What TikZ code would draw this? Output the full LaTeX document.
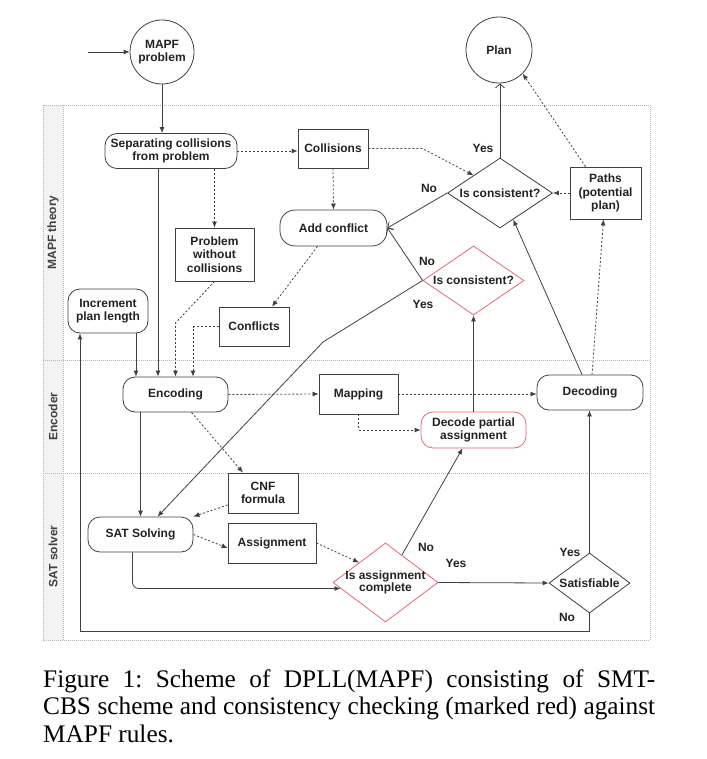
\documentclass[tikz,border=0pt]{standalone}
\usepackage{fontspec}
\usetikzlibrary{shapes.geometric,arrows.meta,calc}
\newfontfamily\dfont{Liberation Sans}
\newfontfamily\capfont{Liberation Serif}
\definecolor{lc}{HTML}{404040}
\definecolor{tc}{HTML}{222222}
\definecolor{rc}{HTML}{E5677C}
\definecolor{lanefill}{HTML}{F3F3F3}
\definecolor{lanec}{HTML}{B8B8B8}
\tikzset{
  base/.style={draw=lc, line width=0.8pt, font=\dfont\bfseries\fontsize{12}{13.7}\selectfont, text=tc, align=center, inner sep=0pt},
  box/.style={base, rectangle},
  rbox/.style={base, rectangle, rounded corners=12pt},
  circ/.style={base, circle},
  dia/.style={base, diamond},
  lbl/.style={font=\dfont\bfseries\fontsize{12}{13.7}\selectfont, text=tc, inner sep=0pt, align=center},
  arr/.style={draw=lc, line width=0.8pt, -{Latex[length=6pt,width=5pt]}},
  darr/.style={arr, dash pattern=on 2pt off 2pt},
  oarr/.style={draw=lc, line width=0.8pt, -{Straight Barb[length=4pt,width=9pt]}},
  lane/.style={draw=lanec, line width=0.6pt, dash pattern=on 1pt off 1pt},
  lanelbl/.style={font=\dfont\bfseries\fontsize{12}{13.7}\selectfont, text=lc, inner sep=0pt},
}
\begin{document}
\begin{tikzpicture}[x=1pt,y=-1pt]
\useasboundingbox (0,0) rectangle (706,759);

% lanes
\fill[lanefill] (43,105) rectangle (63,640);
\draw[lane] (43,105) rectangle (650,640);
\draw[lane] (63,105) -- (63,640);
\draw[lane] (43,360) -- (650,360);
\draw[lane] (43,473) -- (650,473);
\node[lanelbl, rotate=90] (lane1) at (53,232.5) {MAPF theory};
\node[lanelbl, rotate=90] (lane2) at (53,416.5) {Encoder};
\node[lanelbl, rotate=90] (lane3) at (53,556.5) {SAT solver};

% nodes
\node[circ, minimum size=64pt] (mapf) at (162,52) {MAPF\\problem};
\node[circ, minimum size=66pt] (plan) at (499,50) {Plan};
\node[rbox, minimum width=132pt, minimum height=35pt] (sep) at (171,151) {Separating collisions\\from problem};
\node[box, minimum width=70pt, minimum height=39pt] (coll) at (333,148.5) {Collisions};
\node[rbox, rounded corners=15pt, minimum width=107pt, minimum height=36pt] (addc) at (333.5,228) {Add conflict};
\node[box, minimum width=79pt, minimum height=53pt] (pwc) at (214.5,254.5) {Problem\\without\\collisions};
\node[rbox, minimum width=80pt, minimum height=44pt] (inc) at (108,311) {Increment\\plan length};
\node[box, minimum width=70pt, minimum height=39pt] (conf) at (254,326.5) {Conflicts};
\node[dia, minimum width=105pt, minimum height=70pt, label={[lbl]center:Is consistent?}] (ic) at (500,193) {};
\node[box, minimum width=71pt, minimum height=52pt] (paths) at (605.5,193) {Paths\\(potential\\plan)};
\node[dia, draw=rc, minimum width=101pt, minimum height=69pt, label={[lbl]center:Is consistent?}] (ric) at (473.5,280.5) {};
\node[rbox, minimum width=105pt, minimum height=35pt] (enc) at (175.5,394.5) {Encoding};
\node[box, minimum width=79pt, minimum height=40pt] (map) at (358.5,394) {Mapping};
\node[rbox, draw=rc, minimum width=105pt, minimum height=36pt] (dpa) at (473.5,430) {Decode partial\\assignment};
\node[rbox, minimum width=106pt, minimum height=35pt] (dec) at (590,392.5) {Decoding};
\node[box, minimum width=70pt, minimum height=40pt] (cnf) at (263,493) {CNF\\formula};
\node[rbox, minimum width=105pt, minimum height=35pt] (sat) at (140.5,534.5) {SAT Solving};
\node[box, minimum width=88pt, minimum height=40pt] (asg) at (272,543) {Assignment};
\node[dia, draw=rc, minimum width=105pt, minimum height=79pt, label={[lbl,font=\dfont\bfseries\fontsize{12}{10.5}\selectfont]center:{Is assignment\\complete}}] (iac) at (385.5,582.5) {};
\node[dia, minimum width=81pt, minimum height=60pt, label={[lbl]center:Satisfiable}] (satf) at (589.5,583) {};

% edge labels
\node[lbl] (l1) at (483,148) {Yes};
\node[lbl] (l2) at (429,188) {No};
\node[lbl] (l3) at (427,261) {No};
\node[lbl] (l4) at (423,304) {Yes};
\node[lbl] (l5) at (426,547) {No};
\node[lbl] (l6) at (456,563) {Yes};
\node[lbl] (l7) at (570,552) {Yes};
\node[lbl] (l8) at (567,617) {No};

% connectors
\coordinate (start) at (88,52);
\draw[arr] (start) -- (mapf.west);
\draw[arr] (mapf.south) -- (mapf.south |- sep.north);
\draw[darr] (sep.east) -- (sep.east -| coll.west);
\draw[darr] (pwc.north |- sep.south) -- (pwc.north);
\draw[darr] (coll.south) -- (addc.north);
\draw[darr] (coll.east) -- ++(54,0) -- (ic.north west);
\draw[oarr] (ic.north) -- (ic.north |- plan.south);
\draw[oarr] (ic.west) -- (addc.east);
\draw[darr] (paths.west) -- (ic.east);
\draw[darr] ([xshift=-20pt]paths.north) -- (plan.south east);
\draw[darr] ([xshift=2pt]dec.north) -- ([xshift=-2pt]paths.south);
\draw[arr] ([xshift=-8pt]dec.north) -- ($(ic.south)!0.25!(ic.east)$);
\draw[oarr] (ric.west) -- (addc.east);
\coordinate (bend1) at (323,342);
\draw[arr] (ric.west) -- (bend1) -- ([xshift=17pt]sat.north);
\draw[arr] (dpa.north) -- (ric.south);
\draw[arr] ($(iac.north)!0.31!(iac.east)$) -- ([xshift=-11pt]dpa.south);
\draw[arr] (iac.east) -- (satf.west);
\draw[arr] (satf.north) -- (satf.north |- dec.south);
\draw[arr] (satf.south) -- ++(0,18) -| ([xshift=-28pt]inc.south);
\draw[arr] (enc.south -| sat.north) -- (sat.north);
\draw[darr] (enc.east) -- (map.west);
\draw[darr] (map.east) -- (map.east -| dec.west);
\draw[darr] (map.south) |- (dpa.west);
\draw[darr] ([xshift=16pt]enc.south) -- ([xshift=-20pt]cnf.north);
\draw[darr] ([yshift=-12pt]cnf.west) -- (sat.north east);
\draw[darr] (sat.east) -- ([yshift=-5pt]asg.west);
\draw[darr] (asg.east) -- (iac.north west);
\coordinate (iacin) at ($(iac.west)!0.15!(iac.south)$);
\draw[arr, rounded corners=6pt] ([xshift=-8pt]sat.south) |- (iacin);
\draw[darr] ([xshift=-16pt]addc.south) -- ([xshift=18pt]conf.north);
\draw[arr] ([xshift=28pt]inc.south) -- ([xshift=28pt]inc.south |- enc.north);
\draw[arr] ([xshift=-13pt]sep.south) -- ([xshift=-13pt]sep.south |- enc.north);
\coordinate (bend2) at (175.5,323);
\draw[darr] (pwc.south) -- (bend2) -- (enc.north);
\draw[darr] (conf.west) -| ([xshift=17.5pt]enc.north);

% caption
\node[anchor=base west, inner sep=0pt] (cap) at (43,687) {\parbox[t]{612pt}{\capfont\frenchspacing\fontsize{25.3}{27.5}\selectfont
\makebox[612pt][s]{Figure 1: Scheme of DPLL(MAPF) consisting of SMT-}\\
\makebox[612pt][s]{CBS scheme and consistency checking (marked red) against}\\
MAPF rules.}};
\end{tikzpicture}
\end{document}
